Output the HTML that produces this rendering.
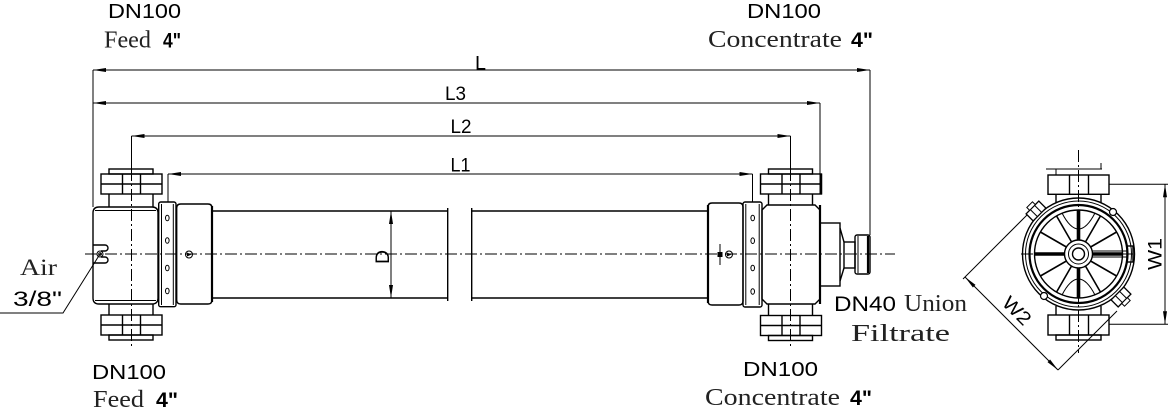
<!DOCTYPE html>
<html>
<head>
<meta charset="utf-8">
<style>
html,body{margin:0;padding:0;background:#fff;}
svg{display:block;}
.o{fill:none;stroke:#000;stroke-width:1.4;}
.t{fill:none;stroke:#000;stroke-width:1;}
.k{fill:none;stroke:#000;stroke-width:2.2;}
.c{fill:none;stroke:#000;stroke-width:1;stroke-dasharray:12 3 2 3;}
.a{fill:#000;stroke:none;}
.sans{font-family:"Liberation Sans",Arial,sans-serif;fill:#000;}
.serif{font-family:"Liberation Serif","Times New Roman",serif;fill:#222;}
</style>
</head>
<body>
<svg width="1169" height="409" viewBox="0 0 1169 409" xmlns="http://www.w3.org/2000/svg">
<rect width="1169" height="409" fill="#fff"/>

<!-- ===== Dimension lines ===== -->
<!-- L -->
<line class="t" x1="93" y1="70" x2="870" y2="70"/>
<polygon class="a" points="93,70 106,68 106,72"/>
<polygon class="a" points="870,70 857,68 857,72"/>
<!-- L3 -->
<line class="t" x1="93" y1="103" x2="820" y2="103"/>
<polygon class="a" points="93,103 106,101 106,105"/>
<polygon class="a" points="820,103 807,101 807,105"/>
<!-- L2 -->
<line class="t" x1="131.5" y1="136" x2="790.5" y2="136"/>
<polygon class="a" points="131.5,136 144.5,134 144.5,138"/>
<polygon class="a" points="790.5,136 777.5,134 777.5,138"/>
<!-- L1 -->
<line class="t" x1="168" y1="174" x2="752.5" y2="174"/>
<polygon class="a" points="168,174 181,172 181,176"/>
<polygon class="a" points="752.5,174 739.5,172 739.5,176"/>

<!-- extension lines -->
<line class="t" x1="93" y1="70" x2="93" y2="207"/>
<line class="t" x1="870" y1="70" x2="870" y2="235"/>
<line class="t" x1="820" y1="103" x2="820" y2="194"/>
<line class="t" x1="131.5" y1="136" x2="131.5" y2="169"/>
<line class="t" x1="790.5" y1="136" x2="790.5" y2="169"/>
<line class="t" x1="168" y1="174" x2="168" y2="202"/>
<line class="t" x1="752.5" y1="174" x2="752.5" y2="202"/>

<text class="sans" x="475" y="69.3" font-size="19.5" textLength="11" lengthAdjust="spacingAndGlyphs">L</text>
<text class="sans" x="445" y="100" font-size="19.5" textLength="21" lengthAdjust="spacingAndGlyphs">L3</text>
<text class="sans" x="450.5" y="133" font-size="19.5" textLength="21" lengthAdjust="spacingAndGlyphs">L2</text>
<text class="sans" x="450.5" y="171.5" font-size="19.5" textLength="20" lengthAdjust="spacingAndGlyphs">L1</text>

<!-- ===== Center lines ===== -->
<line class="c" x1="85" y1="254" x2="895" y2="254"/>
<line class="c" x1="131.5" y1="169" x2="131.5" y2="348"/>
<line class="c" x1="790.5" y1="169" x2="790.5" y2="346"/>

<!-- ===== Left head ===== -->
<!-- top flange -->
<rect class="o" x="109" y="169" width="44" height="5"/>
<rect class="o" x="101" y="174" width="61" height="20"/>
<line class="o" x1="101" y1="184" x2="162" y2="184"/>
<line class="o" x1="122.5" y1="174" x2="122.5" y2="194"/>
<line class="o" x1="140.5" y1="174" x2="140.5" y2="194"/>
<line class="o" x1="109" y1="194" x2="109" y2="207"/>
<line class="o" x1="153" y1="194" x2="153" y2="207"/>
<!-- bottom flange -->
<line class="o" x1="109" y1="304" x2="109" y2="315"/>
<line class="o" x1="153" y1="304" x2="153" y2="315"/>
<rect class="o" x="101" y="315" width="61" height="20"/>
<line class="o" x1="101" y1="325" x2="162" y2="325"/>
<line class="o" x1="122.5" y1="315" x2="122.5" y2="335"/>
<line class="o" x1="140.5" y1="315" x2="140.5" y2="335"/>
<rect class="o" x="109" y="335" width="44" height="5"/>
<!-- body -->
<path class="o" d="M93 213 Q93 207 99 207 H152 Q158 207 158 213 V298 Q158 304 152 304 H99 Q93 304 93 298 Z"/>
<line class="t" x1="95" y1="210.5" x2="156" y2="210.5"/>
<line class="t" x1="95" y1="300.5" x2="156" y2="300.5"/>
<!-- air port slot -->
<path class="o" d="M93 245 H105 A3 3 0 0 1 105 251 H101 M101 257 H105 A3 3 0 0 1 105 263 H93"/>
<circle class="t" cx="100" cy="254" r="3"/>
<circle class="t" cx="100" cy="254" r="1.3"/>
<!-- air leader -->
<polyline class="t" points="100,254 63,313 0,313"/>
<!-- clamp -->
<rect class="o" x="158.7" y="202" width="17.3" height="104.7" rx="2"/>
<line class="t" x1="161.5" y1="204" x2="161.5" y2="305"/>
<line class="t" x1="173.3" y1="204" x2="173.3" y2="305"/>
<ellipse class="t" cx="167.3" cy="218" rx="1.8" ry="2.8"/>
<ellipse class="t" cx="167.3" cy="240.5" rx="1.8" ry="2.8"/>
<ellipse class="t" cx="167.3" cy="268" rx="1.8" ry="2.8"/>
<ellipse class="t" cx="167.3" cy="291" rx="1.8" ry="2.8"/>
<!-- adapter -->
<path class="o" d="M176.7 208 Q176.7 204 180.7 204 H208 Q212 204 212 208 V300 Q212 304 208 304 H180.7 Q176.7 304 176.7 300 Z"/>
<line class="k" x1="212" y1="206" x2="212" y2="302"/>
<circle class="t" cx="189" cy="254.5" r="3.5"/>
<path class="a" d="M187 252.5 L191.5 254.5 L187 256.5 Z"/>

<!-- ===== Tube ===== -->
<line class="o" x1="212" y1="211" x2="447.7" y2="211"/>
<line class="o" x1="212" y1="298" x2="447.7" y2="298"/>
<line class="o" x1="447.7" y1="208" x2="447.7" y2="301"/>
<line class="o" x1="471.7" y1="211" x2="708" y2="211"/>
<line class="o" x1="471.7" y1="298" x2="708" y2="298"/>
<line class="o" x1="471.7" y1="208" x2="471.7" y2="301"/>
<!-- D dim -->
<line class="t" x1="391" y1="211" x2="391" y2="298"/>
<polygon class="a" points="391,211 389,224 393,224"/>
<polygon class="a" points="391,298 389,285 393,285"/>
<text class="sans" transform="translate(389,264) rotate(-90)" x="0" y="0" font-size="19" textLength="14" lengthAdjust="spacingAndGlyphs">D</text>

<!-- ===== Right head ===== -->
<!-- adapter -->
<path class="o" d="M708 207 Q708 203 712 203 H739 Q743 203 743 207 V301 Q743 305 739 305 H712 Q708 305 708 301 Z"/>
<line class="k" x1="708" y1="205" x2="708" y2="303"/>
<circle class="t" cx="729" cy="254.5" r="3.5"/>
<path class="a" d="M727 252.5 L731.5 254.5 L727 256.5 Z"/>
<line class="t" x1="720" y1="244" x2="720" y2="265"/>
<rect class="a" x="717.5" y="252" width="5" height="5"/>
<!-- clamp -->
<rect class="o" x="743" y="202" width="19" height="105" rx="2"/>
<line class="t" x1="745.8" y1="204" x2="745.8" y2="305"/>
<line class="t" x1="759.2" y1="204" x2="759.2" y2="305"/>
<ellipse class="t" cx="752.7" cy="218" rx="1.8" ry="2.8"/>
<ellipse class="t" cx="752.7" cy="240.7" rx="1.8" ry="2.8"/>
<ellipse class="t" cx="752.7" cy="268" rx="1.8" ry="2.8"/>
<ellipse class="t" cx="752.7" cy="291.5" rx="1.8" ry="2.8"/>
<!-- body -->
<path class="o" d="M762 210 L767 205 H815 L820 210 V299 L815 304 H767 L762 299 Z"/>
<line class="k" x1="820" y1="205" x2="820" y2="304"/>
<!-- top flange -->
<rect class="o" x="768.5" y="169" width="44" height="5"/>
<rect class="o" x="760.5" y="174" width="61" height="20"/>
<line class="o" x1="760.5" y1="184" x2="821.5" y2="184"/>
<line class="o" x1="782" y1="174" x2="782" y2="194"/>
<line class="o" x1="800" y1="174" x2="800" y2="194"/>
<line class="k" x1="821" y1="174" x2="821" y2="194"/>
<line class="o" x1="768.5" y1="194" x2="768.5" y2="205"/>
<line class="o" x1="812.5" y1="194" x2="812.5" y2="205"/>
<!-- bottom flange -->
<line class="o" x1="768.5" y1="304" x2="768.5" y2="315.5"/>
<line class="o" x1="812.5" y1="304" x2="812.5" y2="315.5"/>
<rect class="o" x="760.5" y="315.5" width="61" height="20"/>
<line class="o" x1="760.5" y1="325.5" x2="821.5" y2="325.5"/>
<line class="o" x1="782" y1="315.5" x2="782" y2="335.5"/>
<line class="o" x1="800" y1="315.5" x2="800" y2="335.5"/>
<rect class="o" x="768.5" y="335.5" width="44" height="5"/>
<!-- filtrate port -->
<rect class="o" x="820" y="223" width="20" height="63"/>
<line class="o" x1="840" y1="228" x2="844" y2="242"/>
<line class="o" x1="840" y1="281" x2="844" y2="268"/>
<rect class="o" x="844" y="242" width="11" height="26"/>
<rect class="o" x="855" y="235" width="15" height="39" rx="2"/>
<line class="t" x1="858" y1="236" x2="858" y2="273"/>
<line class="k" x1="868" y1="236" x2="868" y2="273"/>

<!-- ===== End view ===== -->
<line class="c" x1="1078.5" y1="150" x2="1078.5" y2="353"/>
<line class="c" x1="1021" y1="254" x2="1134" y2="254"/>
<!-- top flange -->
<line class="t" x1="1046" y1="169" x2="1102" y2="169"/>
<line class="t" x1="1056" y1="169" x2="1056" y2="175"/>
<line class="t" x1="1101" y1="163" x2="1101" y2="169"/>
<rect class="o" x="1048" y="175" width="61" height="19.3"/>
<line class="o" x1="1069.5" y1="175" x2="1069.5" y2="194.3"/>
<line class="o" x1="1088.5" y1="175" x2="1088.5" y2="194.3"/>
<line class="o" x1="1056" y1="194.3" x2="1056" y2="203"/>
<line class="o" x1="1101" y1="194.3" x2="1101" y2="203"/>
<!-- bottom flange -->
<line class="o" x1="1056" y1="306" x2="1056" y2="315"/>
<line class="o" x1="1101" y1="306" x2="1101" y2="315"/>
<rect class="o" x="1048" y="315" width="61" height="20"/>
<line class="o" x1="1069.5" y1="315" x2="1069.5" y2="335"/>
<line class="o" x1="1088.5" y1="315" x2="1088.5" y2="335"/>
<rect class="o" x="1056" y="335" width="45" height="5"/>
<!-- rings -->
<circle class="o" cx="1078.5" cy="254" r="56"/>
<circle class="t" cx="1078.5" cy="254" r="53"/>
<circle class="k" cx="1078.5" cy="254" r="49"/>
<circle class="o" cx="1078.5" cy="254" r="44"/>
<!-- spokes -->
<g stroke="#000" stroke-width="1.6">
<line x1="1078.5" y1="254" x2="1116.6" y2="232"/>
<line x1="1078.5" y1="254" x2="1100.5" y2="215.9"/>
<line x1="1078.5" y1="254" x2="1056.5" y2="215.9"/>
<line x1="1078.5" y1="254" x2="1040.4" y2="232"/>
<line x1="1078.5" y1="254" x2="1040.4" y2="276"/>
<line x1="1078.5" y1="254" x2="1056.5" y2="292.1"/>
<line x1="1078.5" y1="254" x2="1100.5" y2="292.1"/>
<line x1="1078.5" y1="254" x2="1116.6" y2="276"/>
</g>
<g stroke="#000" stroke-width="3.6">
<line x1="1034.5" y1="254" x2="1122.5" y2="254"/>
<line x1="1078.5" y1="210" x2="1078.5" y2="298"/>
</g>
<!-- fan curves -->
<path class="t" d="M1062 213 Q1078.5 245 1095 213"/>
<path class="t" d="M1062 295 Q1078.5 263 1095 295"/>
<!-- hub -->
<circle cx="1078.5" cy="254" r="14" fill="#fff" stroke="#000" stroke-width="1.4"/>
<circle class="t" cx="1078.5" cy="254" r="10"/>
<circle class="o" cx="1078.5" cy="254" r="6"/>
<line class="t" x1="1092" y1="251" x2="1128" y2="251"/>
<line class="t" x1="1092" y1="257" x2="1128" y2="257"/>
<!-- side tab -->
<rect class="o" x="1127" y="246" width="6" height="16"/>
<!-- lugs -->
<g transform="translate(1036,211) rotate(-45)">
<rect x="-9" y="-5" width="18" height="10" fill="#fff" stroke="#000" stroke-width="1.3"/>
<line class="t" x1="-3" y1="-5" x2="-3" y2="5"/>
<line class="t" x1="3" y1="-5" x2="3" y2="5"/>
<rect x="-4" y="-9" width="8" height="4" fill="#fff" stroke="#000" stroke-width="1"/>
</g>
<g transform="translate(1121,297) rotate(-45)">
<rect x="-9" y="-5" width="18" height="10" fill="#fff" stroke="#000" stroke-width="1.3"/>
<line class="t" x1="-3" y1="-5" x2="-3" y2="5"/>
<line class="t" x1="3" y1="-5" x2="3" y2="5"/>
<rect x="-4" y="5" width="8" height="4" fill="#fff" stroke="#000" stroke-width="1"/>
</g>
<circle cx="1113" cy="212" r="3.5" fill="#fff" stroke="#000" stroke-width="1.2"/>
<circle cx="1044" cy="296" r="3.5" fill="#fff" stroke="#000" stroke-width="1.2"/>

<!-- W1 -->
<line class="t" x1="1109" y1="184.3" x2="1168" y2="184.3"/>
<line class="t" x1="1109" y1="324.3" x2="1168" y2="324.3"/>
<line class="t" x1="1165" y1="184.3" x2="1165" y2="324.3"/>
<polygon class="a" points="1165,184.3 1163,197.3 1167,197.3"/>
<polygon class="a" points="1165,324.3 1163,311.3 1167,311.3"/>
<text class="sans" transform="translate(1161.5,270) rotate(-90)" x="0" y="0" font-size="19" textLength="32" lengthAdjust="spacingAndGlyphs">W1</text>

<!-- W2 -->
<line class="t" x1="1027" y1="215" x2="963" y2="279"/>
<line class="t" x1="965" y1="277" x2="1058" y2="370"/>
<line class="t" x1="1058" y1="370" x2="1117" y2="311"/>
<polygon class="a" points="965,277 975.5,284.9 972.9,287.5"/>
<polygon class="a" points="1058,370 1050.1,359.5 1047.5,362.1"/>
<text class="sans" transform="translate(1001,304) rotate(45)" x="0" y="0" font-size="19" textLength="32" lengthAdjust="spacingAndGlyphs">W2</text>

<!-- ===== Labels ===== -->
<text class="sans" x="108" y="18" font-size="20.5" textLength="73" lengthAdjust="spacingAndGlyphs">DN100</text>
<text class="serif" x="104" y="47.5" font-size="24" textLength="47" lengthAdjust="spacingAndGlyphs">Feed</text>
<text class="sans" x="163" y="47.5" font-size="21" font-weight="bold" textLength="18" lengthAdjust="spacingAndGlyphs">4"</text>

<text class="sans" x="747" y="18" font-size="20.5" textLength="74" lengthAdjust="spacingAndGlyphs">DN100</text>
<text class="serif" x="708" y="47" font-size="24" textLength="134" lengthAdjust="spacingAndGlyphs">Concentrate</text>
<text class="sans" x="851" y="47" font-size="21" font-weight="bold" textLength="22" lengthAdjust="spacingAndGlyphs">4"</text>

<text class="sans" x="92" y="379" font-size="20.5" textLength="74" lengthAdjust="spacingAndGlyphs">DN100</text>
<text class="serif" x="93" y="407" font-size="24" textLength="51" lengthAdjust="spacingAndGlyphs">Feed</text>
<text class="sans" x="156" y="407" font-size="21" font-weight="bold" textLength="22" lengthAdjust="spacingAndGlyphs">4"</text>

<text class="sans" x="743" y="376" font-size="20.5" textLength="75" lengthAdjust="spacingAndGlyphs">DN100</text>
<text class="serif" x="705" y="405" font-size="24" textLength="135" lengthAdjust="spacingAndGlyphs">Concentrate</text>
<text class="sans" x="850" y="405" font-size="21" font-weight="bold" textLength="22" lengthAdjust="spacingAndGlyphs">4"</text>

<text class="sans" x="834" y="311" font-size="21" textLength="62" lengthAdjust="spacingAndGlyphs">DN40</text>
<text class="serif" x="904" y="311" font-size="24" textLength="63" lengthAdjust="spacingAndGlyphs">Union</text>
<text class="serif" x="851" y="341" font-size="24" textLength="99" lengthAdjust="spacingAndGlyphs">Filtrate</text>

<text class="serif" x="20" y="275" font-size="23" textLength="37" lengthAdjust="spacingAndGlyphs">Air</text>
<text class="sans" x="13" y="306" font-size="21" textLength="49" lengthAdjust="spacingAndGlyphs">3/8"</text>
</svg>
</body>
</html>
